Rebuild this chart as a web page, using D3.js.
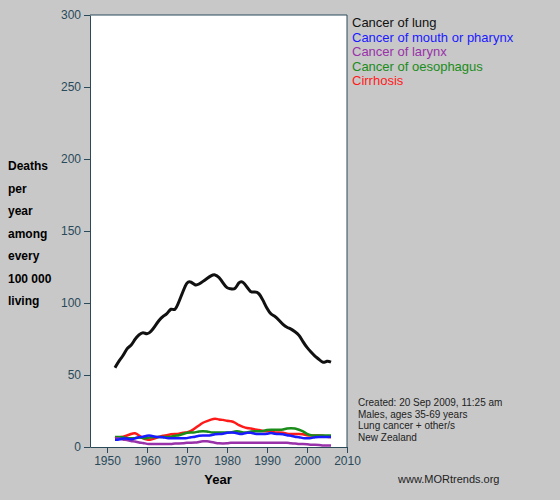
<!DOCTYPE html><html><head><meta charset="utf-8"><script src="https://cdn.jsdelivr.net/npm/d3@7"></script>
<style>body{margin:0;background:#c8c8c8}svg{font-family:Arial,"Liberation Sans",sans-serif}</style></head><body><svg id="c" width="560" height="500"></svg>
<script>
const years=d3.range(1952,2007);
const lung=[55,60,63,69,70,75,78,80,78,80,84,88,91,92,97,94,101,108,115,115,112,113,115,117,119,120,118,114,110,110,109,115,115,111,107,108,107,102,96,92,91,88,85,83,82,80,78,73,69,66,63,61,58,60,59];
const mouth=[5,5,6,6,5,6,7,7,8,8,7,7,7,6,6,6,6,6,6,7,7,8,8,8,8,9,9,9,10,10,10,9,9,10,10,9,9,9,9,10,9,9,9,8,8,7,7,6,6,6,7,7,7,7,7];
const larynx=[6,6,5,5,4,4,3,3,2,2,2,2,2,2,2,2.5,2.5,2.5,3,3,3,3.5,4,4,3.5,3,2.5,2.5,2.5,3,3,3,3,3,3,3,3,3,3,3,3,3,3,3,2.5,2.5,2,2,2,1.5,1.5,1.5,1,1,1];
const oeso=[7,7,7,6,6,6,7,6,6,7,7,7,7,7,7,8,8,9,10,10,10,11,11,11,10,10,10,10,10,10,11,11,10,10,11,11,11,11,12,12,12,12,12,13,13,13,12,11,9,8,8,8,8,8,8];
const cirr=[6,7,7,8,9,10,8,6,5,5,6,7,8,8,9,9,9,10,10,11,13,15,17,18,19,20,19,19,18,18,17,15,14,13,13,12,12,11,11,11,10,10,10,9,9,9,9,9,8,8,8,8,8,7,7];
const series=[["Cancer of lung",lung,"#111"],["Cancer of mouth or pharynx",mouth,"#1a1aff"],["Cancer of larynx",larynx,"#9932aa"],["Cancer of oesophagus",oeso,"#1a8c1a"],["Cirrhosis",cirr,"#ff1a1a"]];
const yTicks=[0,50,100,150,200,250,300], xTicks=[1950,1960,1970,1980,1990,2000,2010];
const svg=d3.select("#c");
const x=d3.scaleLinear().domain([1945.75,2010]).range([90,347]);
const y=d3.scaleLinear().domain([0,300]).range([447,15]);
svg.append("rect").attr("x",90).attr("y",15).attr("width",257).attr("height",432).attr("fill","#fff");
const gx=svg.append("g").attr("transform","translate(0,447)").call(d3.axisBottom(x).tickValues(xTicks).tickFormat(d3.format("d")).tickSize(6).tickSizeOuter(0));
const gy=svg.append("g").attr("transform","translate(90,0)").call(d3.axisLeft(y).tickValues(yTicks).tickSize(6).tickSizeOuter(0));
[gx,gy].forEach(g=>{g.selectAll("text").attr("fill","#2a4a5a").attr("font-size",12);g.selectAll("line,path").attr("stroke","#2a4a5a");});
svg.append("line").attr("x1",347).attr("x2",347).attr("y1",15).attr("y2",447).attr("stroke","#2a4a5a");
svg.append("line").attr("x1",90).attr("x2",347).attr("y1",15).attr("y2",15).attr("stroke","#2a4a5a");
const line=d3.line().x((d,i)=>x(years[i])).y(d=>y(d)).curve(d3.curveBasis);
series.slice().reverse().forEach(s=>svg.append("path").attr("d",line(s[1])).attr("fill","none").attr("stroke",s[2]).attr("stroke-width",s[0]==="Cancer of lung"?3:2.5));
series.forEach((s,i)=>svg.append("text").attr("x",352).attr("y",27+i*14.5).attr("font-size",13).attr("fill",s[2]).text(s[0]));
["Deaths","per","year","among","every","100 000","living"].forEach((t,i)=>svg.append("text").attr("x",8).attr("y",170+i*22.5).attr("font-size",12).attr("font-weight","bold").text(t));
svg.append("text").attr("x",218).attr("y",484).attr("text-anchor","middle").attr("font-size",13).attr("font-weight","bold").text("Year");
["Created: 20 Sep 2009, 11:25 am","Males, ages 35-69 years","Lung cancer + other/s","New Zealand"].forEach((t,i)=>svg.append("text").attr("x",358).attr("y",406+i*11.5).attr("font-size",10).attr("fill","#222").text(t));
svg.append("text").attr("x",398).attr("y",483).attr("font-size",11).attr("fill","#222").text("www.MORtrends.org");
</script></body></html>
